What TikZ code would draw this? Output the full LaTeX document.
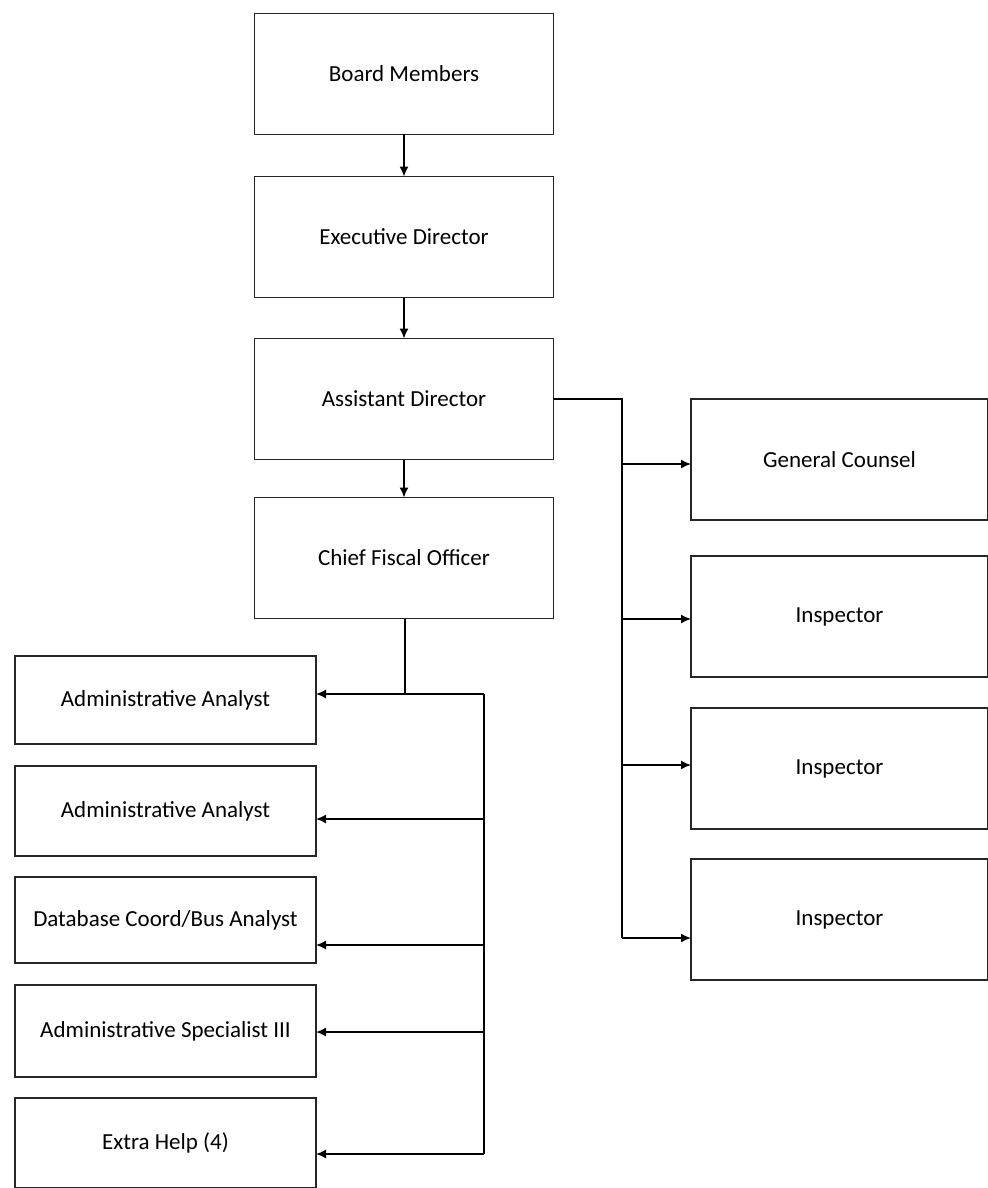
\documentclass[tikz,border=0pt]{standalone}
\usepackage{fontspec}
\setmainfont{Carlito}
\usetikzlibrary{positioning,arrows.meta}
\tikzset{
  unit/.style={rectangle,draw=black!85,line width=0.8pt,outer sep=0pt,align=center,inner sep=2pt,font=\fontsize{11.5}{14}\selectfont},
  top/.style={unit,minimum width=149.5pt,minimum height=60.5pt},
  staff/.style={unit,minimum width=148.5pt,minimum height=60.5pt},
  fisc/.style={unit,minimum width=150.5pt},
  edge/.style={-{Latex[length=5pt,width=4.5pt]},line width=0.75pt},
  wire/.style={line width=0.75pt}
}
\begin{document}
\begin{tikzpicture}[x=0.5pt,y=-0.5pt]
\useasboundingbox (0,0) rectangle (988,1188);
% main column
\node[top] (bm) at (404,74) {Board Members};
\node[top,below=21pt of bm] (ed) {Executive Director};
\node[top,below=20.5pt of ed] (ad) {Assistant Director};
\node[top,below=19pt of ad] (cfo) {Chief Fiscal Officer};
\draw[edge] (bm)--(ed); \draw[edge] (ed)--(ad); \draw[edge] (ad)--(cfo);
% staff under the assistant director
\node[staff,anchor=north west] (gc) at (691,399) {General Counsel};
\node[staff,below=18pt of gc] (in1) {Inspector};
\node[staff,below=15.5pt of in1] (in2) {Inspector};
\node[staff,below=15pt of in2] (in3) {Inspector};
\coordinate (rb1) at (622,464); \coordinate (rb2) at (622,619);
\coordinate (rb3) at (622,765); \coordinate (rb4) at (622,938);
\draw[wire] (ad.east) -| (rb4);
\draw[edge] (rb1)--(gc.west |- rb1); \draw[edge] (rb2)--(in1.west |- rb2);
\draw[edge] (rb3)--(in2.west |- rb3); \draw[edge] (rb4)--(in3.west |- rb4);
% fiscal staff
\node[fisc,anchor=north west,minimum height=44pt] (aa1) at (15,656) {Administrative Analyst};
\node[fisc,below=11pt of aa1,minimum height=45pt] (aa2) {Administrative Analyst};
\node[fisc,below=10.5pt of aa2,minimum height=43pt] (db) {Database Coord/Bus Analyst};
\node[fisc,below=11pt of db,minimum height=46pt] (as) {Administrative Specialist III};
\node[fisc,below=10.5pt of as,minimum height=45pt] (eh) {Extra Help (4)};
\coordinate (lj) at (405,694); \coordinate (lt) at (484,694);
\coordinate (lb2) at (484,819); \coordinate (lb3) at (484,945);
\coordinate (lb4) at (484,1032); \coordinate (lb5) at (484,1154);
\draw[wire] (cfo.south -| lj)--(lj); \draw[wire] (lt)--(lb5);
\draw[edge] (lt)--(aa1.east |- lt); \draw[edge] (lb2)--(aa2.east |- lb2);
\draw[edge] (lb3)--(db.east |- lb3); \draw[edge] (lb4)--(as.east |- lb4);
\draw[edge] (lb5)--(eh.east |- lb5);
\end{tikzpicture}
\end{document}
